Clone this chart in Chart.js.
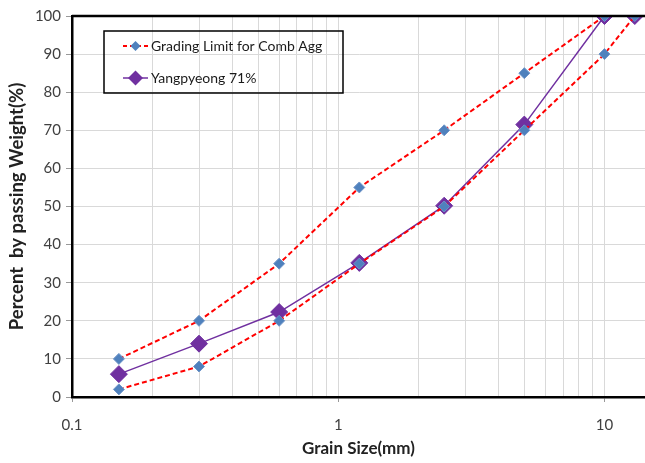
<!DOCTYPE html>
<html>
<head>
<meta charset="utf-8">
<script src="https://cdn.jsdelivr.net/npm/chart.js@4"></script>
<style>
  body { margin: 0; background: #fff; }
  #wrap { width: 645px; height: 463px; }
</style>
</head>
<body>
<div id="wrap"><canvas id="chart"></canvas></div>
<script>
// sieve sizes (mm) and percent passing
const sizes = [0.15, 0.3, 0.6, 1.2, 2.5, 5, 10, 13];
const upperLimit = [10, 20, 35, 55, 70, 85, 100];
const lowerLimit = [2, 8, 20, 35, 50, 70, 90, 100];
const yangpyeong = [6, 14, 22.3, 35.2, 50.2, 71.5, 100, 100];
const xTicks = [0.1, 0.2, 0.3, 0.4, 0.5, 0.6, 0.7, 0.8, 0.9, 1, 2, 3, 4, 5, 6, 7, 8, 9, 10];
const xLabels = [0.1, 1, 10];

const FONT = "Lato, 'Open Sans', sans-serif";
const RED = "#ff0000";
const BLUE = "#4f81bd";
const PURPLE = "#7030a0";

function pts(vals) {
  return vals.map((v, i) => ({ x: sizes[i], y: v }));
}

// legend box inside the plot + top border
const boxLegend = {
  id: "boxLegend",
  afterDraw(chart) {
    const ctx = chart.ctx;
    const a = chart.chartArea;
    ctx.save();
    ctx.strokeStyle = "#000";
    ctx.lineWidth = 2.5;
    ctx.beginPath();
    ctx.moveTo(a.left, a.top);
    ctx.lineTo(chart.width, a.top);
    ctx.stroke();

    ctx.lineWidth = 1.5;
    ctx.strokeRect(104, 31, 239, 62);

    const entries = [
      { text: "Grading Limit for Comb Agg", y: 46, color: RED, dash: [4, 3], mColor: BLUE, r: 5 },
      { text: "Yangpyeong 71%", y: 78, color: PURPLE, dash: [], mColor: PURPLE, r: 7.5 }
    ];
    entries.forEach(e => {
      ctx.strokeStyle = e.color;
      ctx.lineWidth = e.dash.length ? 2 : 1.5;
      ctx.setLineDash(e.dash);
      ctx.beginPath();
      ctx.moveTo(123, e.y);
      ctx.lineTo(148, e.y);
      ctx.stroke();
      ctx.setLineDash([]);
      ctx.fillStyle = e.mColor;
      ctx.beginPath();
      ctx.moveTo(135.5, e.y - e.r);
      ctx.lineTo(135.5 + e.r, e.y);
      ctx.lineTo(135.5, e.y + e.r);
      ctx.lineTo(135.5 - e.r, e.y);
      ctx.closePath();
      ctx.fill();
      ctx.fillStyle = "#1a1a1a";
      ctx.font = "14px " + FONT;
      ctx.textBaseline = "middle";
      ctx.fillText(e.text, 151, e.y);
    });
    ctx.restore();
  }
};

new Chart(document.getElementById("chart"), {
  type: "scatter",
  data: {
    datasets: [
      {
        label: "Grading Limit for Comb Agg",
        data: pts(upperLimit),
        showLine: true,
        borderColor: RED,
        borderWidth: 2,
        borderDash: [5, 3],
        pointStyle: "rectRot",
        pointRadius: 5.5,
        pointBackgroundColor: BLUE,
        pointBorderColor: "#6f95c8",
        pointBorderWidth: 1
      },
      {
        label: "lower",
        data: pts(lowerLimit),
        showLine: true,
        borderColor: RED,
        borderWidth: 2,
        borderDash: [5, 3],
        pointStyle: "rectRot",
        pointRadius: 5.5,
        pointBackgroundColor: BLUE,
        pointBorderColor: "#6f95c8",
        pointBorderWidth: 1
      },
      {
        label: "Yangpyeong 71%",
        data: pts(yangpyeong),
        showLine: true,
        borderColor: PURPLE,
        borderWidth: 1.5,
        pointStyle: "rectRot",
        pointRadius: 8.5,
        pointBackgroundColor: PURPLE,
        pointBorderColor: PURPLE,
        pointBorderWidth: 1
      }
    ]
  },
  options: {
    responsive: true,
    maintainAspectRatio: false,
    animation: false,
    layout: { autoPadding: false, padding: { top: 16, right: 0, left: 0, bottom: 0 } },
    plugins: {
      legend: { display: false },
      tooltip: { enabled: false }
    },
    scales: {
      x: {
        type: "logarithmic",
        min: 0.1,
        max: 14.2,
        afterBuildTicks: s => { s.ticks = xTicks.map(v => ({ value: v })); },
        afterFit: s => { s.height = 66; s.paddingLeft = 0; s.paddingRight = 0; },
        border: { color: "#000", width: 2.5 },
        grid: {
          color: "#d9d9d9",
          tickLength: 5,
          tickColor: c => xLabels.includes(c.tick && c.tick.value) ? "#999" : "rgba(0,0,0,0)"
        },
        ticks: {
          autoSkip: false,
          maxRotation: 0,
          padding: 14,
          color: "#404040",
          font: { family: FONT, size: 15 },
          callback: v => xLabels.includes(v) ? String(v) : ""
        },
        title: {
          display: true,
          text: "Grain Size(mm)",
          color: "#222",
          font: { family: FONT, size: 17, weight: "bold" },
          padding: { top: 2 }
        }
      },
      y: {
        min: 0,
        max: 100,
        afterFit: s => { s.width = 72; s.paddingTop = 0; s.paddingBottom = 0; },
        border: { color: "#000", width: 2.5 },
        grid: { color: "#d9d9d9", tickLength: 6, tickColor: "#999" },
        ticks: {
          stepSize: 10,
          padding: 5,
          color: "#404040",
          font: { family: FONT, size: 15 }
        },
        title: {
          display: true,
          text: "Percent  by passing Weight(%)",
          color: "#222",
          font: { family: FONT, size: 18.5, weight: "bold" },
          padding: { top: 6, bottom: 2 }
        }
      }
    }
  },
  plugins: [boxLegend]
});
</script>
</body>
</html>
